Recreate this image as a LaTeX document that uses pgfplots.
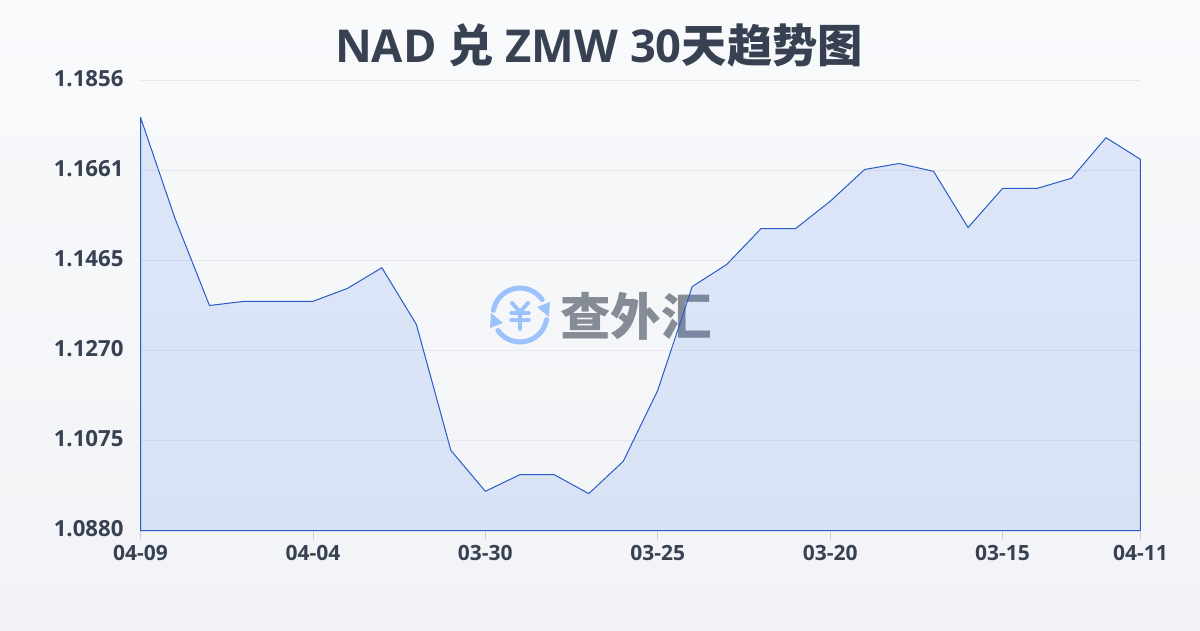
\documentclass[border=0pt]{standalone}
\usepackage{fontspec}
\usepackage{pgfplots}
\pgfplotsset{compat=1.18}
\setmainfont{Open Sans}
\newfontfamily\cjk{Noto Sans CJK SC}
\definecolor{bgtop}{HTML}{F8FAFC}
\definecolor{bgbot}{HTML}{F1F3F6}
\definecolor{ink}{HTML}{374151}
\definecolor{linecol}{HTML}{2A5CC4}
\definecolor{fillcol}{HTML}{2563EB}
\definecolor{gridcol}{HTML}{E5E7EB}
\definecolor{logoblue}{HTML}{9CC2FB}
\definecolor{markgray}{HTML}{868C96}
\begin{document}
\begin{tikzpicture}[x=1pt,y=1pt]
  \path[use as bounding box,top color=bgtop,bottom color=bgbot] (0,0) rectangle (1200,630);
  % title
  \node[text=ink,font=\fontsize{45.3}{48}\selectfont\bfseries] at (599,585) {NAD {\cjk 兑} ZMW 30{\cjk 天趋势图}};
  % watermark
  \begin{scope}[shift={(520,315)}]
    \draw[logoblue,line width=5pt,line cap=round] (170:27) arc (170:35:27);
    \draw[logoblue,line width=5pt,line cap=round] (-10:27) arc (-10:-145:27);
    \fill[logoblue] (29,-2) -- (30,13) -- (17,8) -- cycle;
    \fill[logoblue] (-29,2) -- (-30,-13) -- (-17,-8) -- cycle;
    \draw[logoblue,line width=4pt,line cap=round,line join=round] (-8,12) -- (0,3) -- (8,12);
    \draw[logoblue,line width=3.5pt,line cap=round] (-9,2) -- (9,2) (-9,-5) -- (9,-5);
    \draw[logoblue,line width=4pt,line cap=round] (0,3) -- (0,-14);
  \end{scope}
  \node[text=markgray,font=\cjk\fontsize{50.5}{54}\selectfont\bfseries] at (636,314) {查外汇};
  \begin{axis}[
    at={(140.5pt,99.5pt)},anchor=origin,
    scale only axis,
    width=1000pt,height=450pt,
    xmin=0,xmax=29,
    ymin=1.0880,ymax=1.1856,
    axis line style={draw=none},
    xtick={0,5,10,15,20,25,29},
    xticklabels={04-09,04-04,03-30,03-25,03-20,03-15,04-11},
    ytick={1.0880,1.1075,1.1270,1.1465,1.1661,1.1856},
    ymajorgrids,
    grid style={gridcol,line width=0.8pt},
    xtick style={draw=gridcol!90!black,line width=0.8pt},
    ytick style={draw=none},
    tick align=outside,
    major tick length=9pt,
    xtick pos=bottom,
    ytick pos=left,
    tick label style={text=ink},
    xticklabel style={font=\fontsize{21}{24}\selectfont\bfseries,yshift=-2pt},
    yticklabel style={font=\fontsize{22.2}{26}\selectfont\bfseries,yshift=2pt,xshift=-4.5pt},
    y tick label style={/pgf/number format/.cd,fixed,fixed zerofill,precision=4,assume math mode=true},
    clip=false,
  ]
  \addplot[draw=linecol,line width=1pt,fill=fillcol,fill opacity=0.12,line join=round] coordinates {
    (0,1.0880) (0,1.1776) (1,1.1557) (2,1.1368) (3,1.1377) (4,1.1377) (5,1.1377)
    (6,1.1405) (7,1.1450) (8,1.1327) (9,1.1054) (10,1.0965) (11,1.1001)
    (12,1.1001) (13,1.0960) (14,1.1030) (15,1.1184) (16,1.1409) (17,1.1457)
    (18,1.1535) (19,1.1535) (20,1.1594) (21,1.1663) (22,1.1676) (23,1.1659)
    (24,1.1537) (25,1.1622) (26,1.1622) (27,1.1644) (28,1.1732) (29,1.1685) (29,1.0880)
  } -- cycle;
  \end{axis}
\end{tikzpicture}
\end{document}
